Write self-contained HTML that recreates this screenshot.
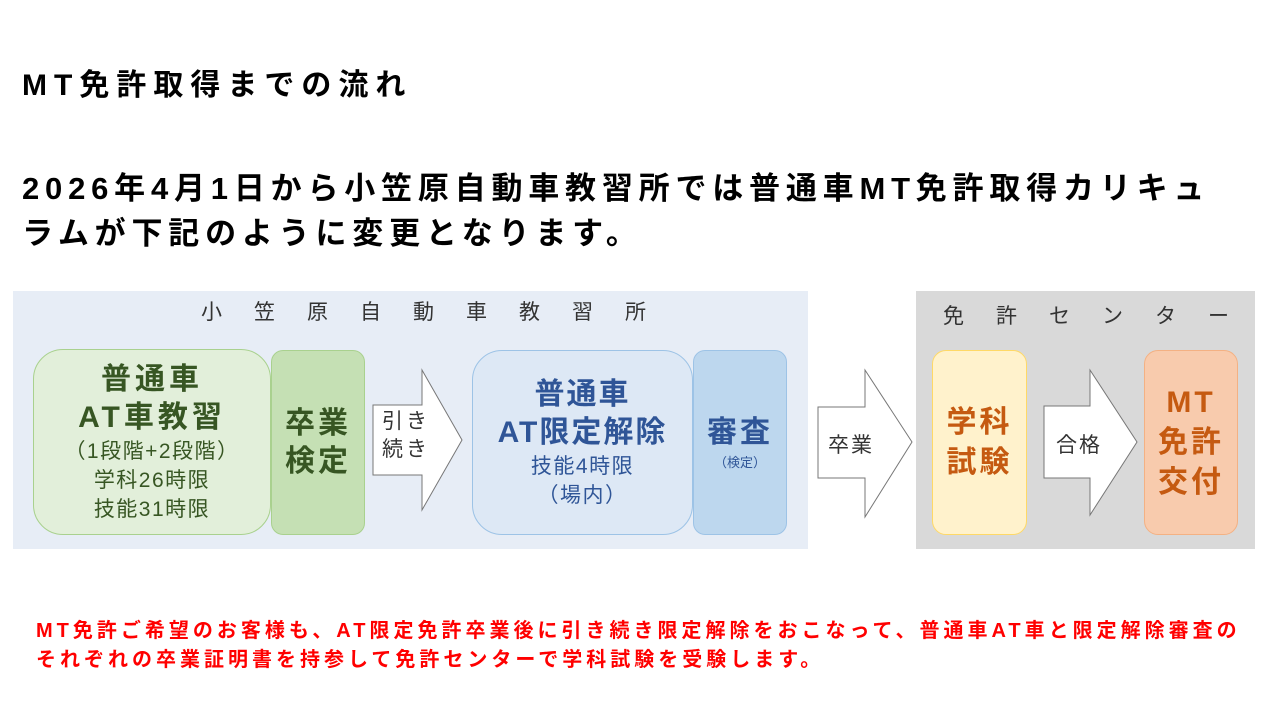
<!DOCTYPE html>
<html><head><meta charset="utf-8"><style>
body{margin:0;width:1280px;height:720px;background:#fff;position:relative;overflow:hidden;font-family:"Liberation Sans","Noto Sans CJK JP",sans-serif;}
.a{position:absolute;}
.c{display:flex;flex-direction:column;align-items:center;justify-content:center;text-align:center;box-sizing:border-box;}
.h{font-size:30px;font-weight:bold;line-height:38px;letter-spacing:2px;}
.s{font-size:21px;line-height:29px;letter-spacing:1.5px;}
</style></head><body>
<div class="a" style="left:22px;top:60px;font-size:30px;font-weight:bold;color:#000;letter-spacing:7px;">MT免許取得までの流れ</div>
<div class="a" style="left:22px;top:166px;font-size:31px;font-weight:bold;color:#000;line-height:45px;width:1250px;letter-spacing:5.8px;">2026年4月1日から小笠原自動車教習所では普通車MT免許取得カリキュ<br>ラムが下記のように変更となります。</div>

<div class="a" style="left:13px;top:291px;width:795px;height:258px;background:#e7edf6;"></div>
<div class="a" style="left:916px;top:291px;width:339px;height:258px;background:#d9d9d9;"></div>
<div class="a" style="left:201px;top:296px;font-size:21px;color:#333;letter-spacing:32px;">小笠原自動車教習所</div>
<div class="a" style="left:943px;top:300px;font-size:21px;color:#333;letter-spacing:32px;">免許センター</div>

<div class="a c" style="left:33px;top:349px;width:238px;height:186px;background:#e2efda;border:1px solid #a9d18e;border-radius:30px;color:#375623;">
<div class="h" style="letter-spacing:4px">普通車<br>AT車教習</div>
<div class="s">（1段階+2段階）<br>学科26時限<br>技能31時限</div></div>
<div class="a c" style="left:271px;top:350px;width:94px;height:185px;background:#c5e0b4;border:1px solid #a9d18e;border-radius:12px;color:#375623;"><div class="h" style="letter-spacing:3px">卒業<br>検定</div></div>

<svg class="a" style="left:0;top:0" width="1280" height="720">
<polygon points="373,405 422,405 422,370 462,440 422,510 422,475 373,475" fill="#fff" stroke="#777"/>
<polygon points="818,407 865,407 865,370 912,442 865,517 865,478 818,478" fill="#fff" stroke="#777"/>
<polygon points="1044,406 1090,406 1090,370 1137,442 1090,515 1090,478 1044,478" fill="#fff" stroke="#777"/>
</svg>
<div class="a" style="left:382px;top:408px;font-size:21px;line-height:28px;color:#333;letter-spacing:3px;">引き<br>続き</div>
<div class="a" style="left:828px;top:429px;font-size:21px;color:#333;letter-spacing:2px;">卒業</div>
<div class="a" style="left:1056px;top:429px;font-size:21px;color:#333;letter-spacing:2px;">合格</div>

<div class="a c" style="left:472px;top:350px;width:221px;height:185px;background:#dde8f5;border:1px solid #9dc3e6;border-radius:30px;color:#2f5597;">
<div class="h" style="letter-spacing:2px">普通車<br>AT限定解除</div>
<div class="s">技能4時限<br>（場内）</div></div>
<div class="a c" style="left:693px;top:350px;width:94px;height:185px;background:#bdd7ee;border:1px solid #9dc3e6;border-radius:12px;color:#2f5597;">
<div class="h" style="letter-spacing:3px">審査</div><div style="font-size:13px;">（検定）</div></div>

<div class="a c" style="left:932px;top:350px;width:95px;height:185px;background:#fff2cc;border:1px solid #ffd966;border-radius:14px;color:#c55a11;"><div class="h" style="line-height:40px;letter-spacing:3px">学科<br>試験</div></div>
<div class="a c" style="left:1144px;top:350px;width:94px;height:185px;background:#f8cbad;border:1px solid #f4b183;border-radius:14px;color:#c55a11;"><div class="h" style="line-height:40px;letter-spacing:3px">MT<br>免許<br>交付</div></div>

<div class="a" style="left:36px;top:617px;font-size:20px;font-weight:bold;color:#ff0000;line-height:29px;width:1250px;letter-spacing:4px;">MT免許ご希望のお客様も、AT限定免許卒業後に引き続き限定解除をおこなって、普通車AT車と限定解除審査の<br>それぞれの卒業証明書を持参して免許センターで学科試験を受験します。</div>
</body></html>
